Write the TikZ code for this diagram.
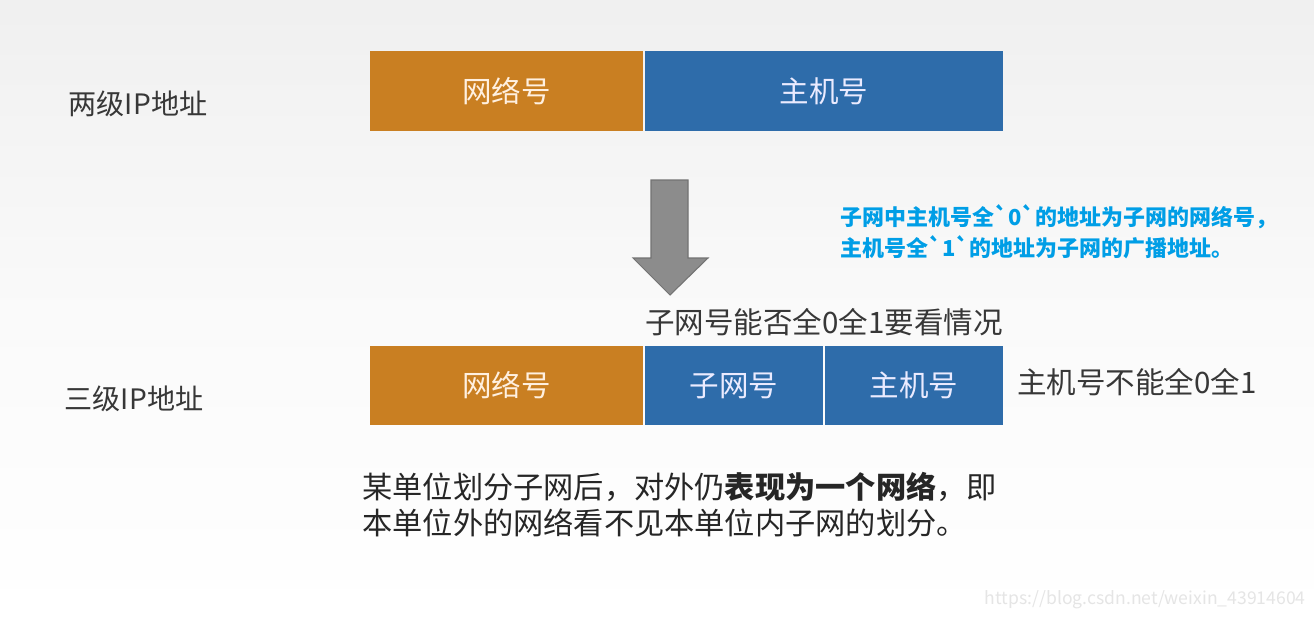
\documentclass[tikz,border=0pt]{standalone}
\usepackage{fontspec}
\setmainfont{Noto Sans CJK SC}
\newfontfamily\notefont{Noto Sans CJK SC}
\usepackage{tikz}
\usetikzlibrary{positioning}
\definecolor{netorange}{RGB}{201,127,34}
\definecolor{hostblue}{RGB}{46,108,170}
\definecolor{noteblue}{RGB}{0,158,230}
\definecolor{labelgray}{RGB}{55,55,55}
\newcommand{\fs}[1]{\fontsize{#1}{1.25\dimexpr#1pt\relax}\selectfont}

\begin{document}
\begin{tikzpicture}[
  x=0.02cm, y=-0.02cm,
  field/.style={inner sep=0pt, outer sep=0pt, minimum height=1.6cm,
                font=\fs{16.8}, text=white!92!blue},
  netfield/.style={field, fill=netorange, minimum width=5.46cm, text=white!88!orange},
  hostfield/.style={field, fill=hostblue},
  levellabel/.style={text=labelgray, font=\fs{16}, inner sep=0pt},
  remark/.style={text=labelgray, font=\fs{16.8}, inner sep=0pt},
  node distance=0.04cm
]
% background
\fill[top color=black!6, bottom color=white, middle color=black!2]
  (0,0) rectangle (1314,619);
\useasboundingbox (0,0) rectangle (1314,619);

% two-level address
\node[levellabel] (lvl2) at (138,104) {两级IP地址};
\node[netfield] (net1) at (506.5,91) {网络号};
\node[hostfield, minimum width=7.16cm, right=of net1] (host1) {主机号};

% down arrow
\coordinate (arrtip) at (670,295);
\fill[black!45, draw=black!55, line width=0.6pt]
  (651,180) -- (688,180) -- (688,258) -- (708,258) -- (arrtip)
  -- (633,258) -- (651,258) -- cycle;

% note on subnet
\node[text=noteblue, font=\notefont\fs{12.5}\bfseries, align=left, anchor=west, inner sep=0pt]
  (note) at (840,232) {子网中主机号全`0`的地址为子网的网络号，\\[2pt]主机号全`1`的地址为子网的广播地址。};

% three-level address
\node[levellabel] (lvl3) at (134,399) {三级IP地址};
\node[netfield, minimum height=1.58cm] (net2) at (506.5,385.5) {网络号};
\node[hostfield, minimum height=1.58cm, minimum width=3.56cm, right=of net2] (sub2) {子网号};
\node[hostfield, minimum height=1.58cm, minimum width=3.56cm, right=of sub2] (host2) {主机号};

\node[remark, anchor=south west] (subrule) at (645,336) {子网号能否全0全1要看情况};
\node[remark, anchor=west] (hostrule) at (1017,382) {主机号不能全0全1};

% summary
\node[text=black!85, font=\fs{17.2}, align=left, anchor=north west, inner sep=0pt]
  (summary) at (362,472) {某单位划分子网后，对外仍\textbf{表现为一个网络}，即\\[-1pt]本单位外的网络看不见本单位内子网的划分。};

% watermark
\node[text=black!10, font=\fs{10}, anchor=east, inner sep=0pt]
  (mark) at (1306,600) {https://blog.csdn.net/weixin\_43914604};
\end{tikzpicture}
\end{document}
